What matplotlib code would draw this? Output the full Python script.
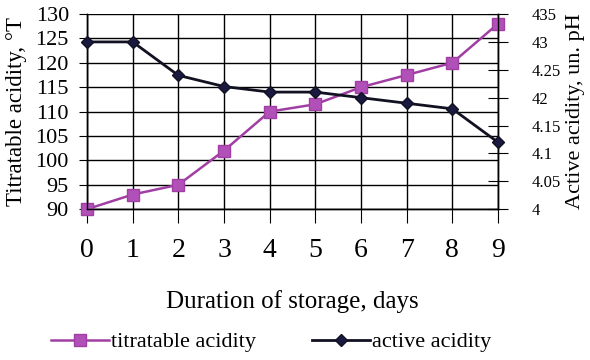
import matplotlib
matplotlib.use("Agg")
import matplotlib.pyplot as plt
import numpy as np

days = [0, 1, 2, 3, 4, 5, 6, 7, 8, 9]
titratable = [90, 93, 95, 102, 110, 111.5, 115, 117.5, 120, 128]
active = [4.30, 4.30, 4.24, 4.22, 4.21, 4.21, 4.20, 4.19, 4.18, 4.12]

left_ticks = [90, 95, 100, 105, 110, 115, 120, 125, 130]
right_ticks = [4.0, 4.05, 4.1, 4.15, 4.2, 4.25, 4.3, 4.35]
right_labels = ["4", "4.05", "4.1", "4.15", "42", "4.25", "43", "435"]

plt.rcParams['font.family'] = ['Liberation Serif', 'DejaVu Serif']

purple = "#a13ea3"
dark = "#111122"

fig = plt.figure(figsize=(5.9, 3.6), dpi=100)
ax = fig.add_axes([0.1475, 0.419, 0.6965, 0.542])
ax2 = ax.twinx()

ax.plot(days, titratable, color=purple, lw=1.8, marker="s", ms=9,
        mfc="#b050b8", mec=purple, clip_on=False, zorder=3,
        label="titratable acidity")
ax2.plot(days, active, color=dark, lw=2, marker="D", ms=6,
         mfc="#1a1a40", mec=dark, clip_on=False, zorder=3,
         label="active acidity")

ax.set_xlim(0, 9)
ax.set_ylim(90, 130)
ax2.set_ylim(4.0, 4.35)
ax.set_xticks(days)
ax.set_yticks(left_ticks)
ax2.set_yticks(right_ticks)
ax2.set_yticklabels(right_labels)

ax.grid(True, color="black", lw=1)
ax.set_axisbelow(True)
for a in (ax, ax2):
    for s in a.spines.values():
        s.set_color("black")
        s.set_linewidth(1)
    a.spines["top"].set_visible(False)

ax.tick_params(axis="y", direction="out", length=6, labelsize=16, pad=7)
ax.tick_params(axis="x", direction="out", length=10, labelsize=20, pad=11)
ax2.tick_params(axis="y", direction="inout", length=14, labelsize=12, pad=17)

ax.set_ylabel("Titratable acidity, °T", fontsize=16.5, labelpad=6)
ax2.set_ylabel("Active acidity, un. pH", fontsize=16, labelpad=4)
ax.set_xlabel("Duration of storage, days", fontsize=18, labelpad=19)

h1, l1 = ax.get_legend_handles_labels()
h2, l2 = ax2.get_legend_handles_labels()
fig.legend(h1 + h2, l1 + l2, loc="center", bbox_to_anchor=(0.46, 0.05),
           ncol=2, frameon=False, fontsize=16, columnspacing=2.5,
           handlelength=2.6, handletextpad=0.1)

fig.savefig("out.png", dpi=100)
